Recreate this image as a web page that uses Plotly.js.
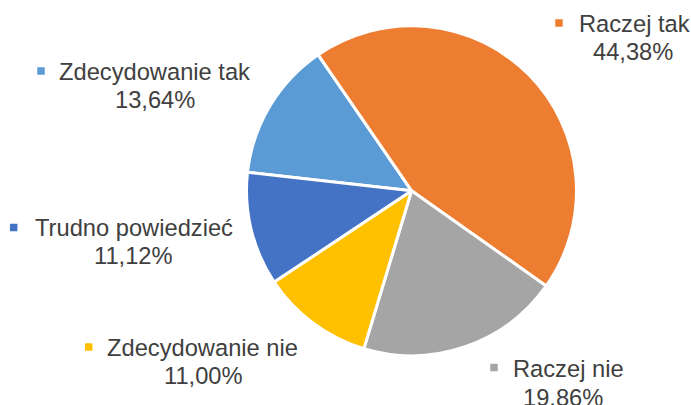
<!DOCTYPE html>
<html>
<head>
<meta charset="utf-8">
<script src="https://cdn.plot.ly/plotly-3.0.1.min.js"></script>
<style>
  html, body { margin: 0; padding: 0; background: #ffffff; }
  #chart { width: 691px; height: 405px; }
</style>
</head>
<body>
<div id="chart"></div>
<script>
// ---- data ----
var categories = ["Zdecydowanie tak", "Raczej tak", "Raczej nie", "Zdecydowanie nie", "Trudno powiedzieć"];
var values = [13.64, 44.38, 19.86, 11.00, 11.12];
var valueLabels = ["13,64%", "44,38%", "19.86%", "11,00%", "11,12%"];
var colors = ["#5B9BD5", "#ED7D31", "#A5A5A5", "#FFC000", "#4472C4"];

// ---- label layout (pixel positions in the 691x405 canvas), same order as categories ----
var W = 691, H = 405;
function px(x) { return x / W; }
function py(y) { return 1 - y / H; }

// [name center x, name y, value center x, value y, key square center x, key y]
var labelPos = [
  [154.5, 71.7, 155, 99.5, 41, 71],
  [634, 23.7, 633.3, 52, 559, 23],
  [568.5, 368.7, 563, 397.5, 494, 367.5],
  [202.5, 347.5, 203.3, 376, 88.7, 347],
  [133.5, 227.5, 133, 256, 13.7, 227.5]
];

var textColor = "#404040";
var fontFam = "Liberation Sans, Arial, sans-serif";
var fontSize = 23.7;
var keySize = 7.5;

var annotations = [];
var shapes = [];
for (var i = 0; i < categories.length; i++) {
  var p = labelPos[i];
  annotations.push({
    xref: "paper", yref: "paper", x: px(p[0]), y: py(p[1]),
    xanchor: "center", yanchor: "middle", showarrow: false,
    text: categories[i],
    font: { family: fontFam, size: fontSize, color: textColor }
  });
  annotations.push({
    xref: "paper", yref: "paper", x: px(p[2]), y: py(p[3]),
    xanchor: "center", yanchor: "middle", showarrow: false,
    text: valueLabels[i],
    font: { family: fontFam, size: fontSize, color: textColor }
  });
  shapes.push({
    type: "rect", xref: "paper", yref: "paper",
    x0: px(p[4] - keySize / 2), x1: px(p[4] + keySize / 2),
    y0: py(p[5] + keySize / 2), y1: py(p[5] - keySize / 2),
    fillcolor: colors[i], line: { width: 0 }
  });
}

var trace = {
  type: "pie",
  labels: categories,
  values: values,
  sort: false,
  direction: "clockwise",
  rotation: -83.6,
  textinfo: "none",
  hoverinfo: "label+percent",
  marker: { colors: colors, line: { color: "#ffffff", width: 3 } },
  domain: { x: [0.35673, 0.83430], y: [0.12173, 0.93654] },
  showlegend: false
};

var layout = {
  width: W, height: H,
  margin: { l: 0, r: 0, t: 0, b: 0, pad: 0 },
  paper_bgcolor: "#ffffff",
  plot_bgcolor: "#ffffff",
  showlegend: false,
  annotations: annotations,
  shapes: shapes
};

Plotly.newPlot("chart", [trace], layout, { displayModeBar: false, staticPlot: true });
</script>
</body>
</html>
